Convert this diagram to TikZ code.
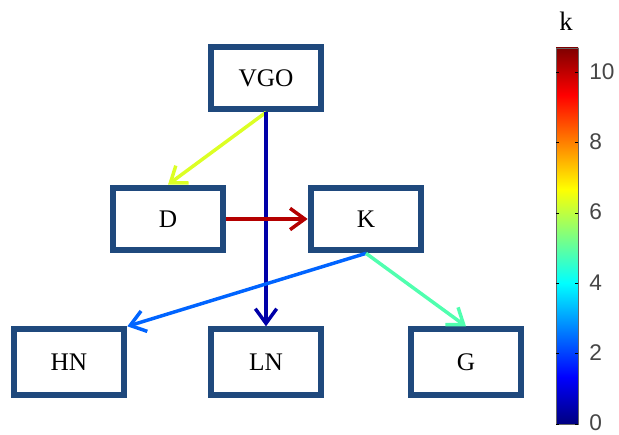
\documentclass[tikz,border=0pt]{standalone}
\usepackage{fontspec}
\setmainfont{Liberation Serif}
\newfontfamily\barfont{Liberation Sans}
\usetikzlibrary{arrows.meta}

\definecolor{boxblue}{RGB}{31,73,125}
\definecolor{tickgray}{RGB}{70,70,70}
\definecolor{jetA}{rgb}{0,0,0.5}
\definecolor{jetB}{rgb}{0,0,1}
\definecolor{jetC}{rgb}{0,1,1}
\definecolor{jetD}{rgb}{1,1,0}
\definecolor{jetE}{rgb}{1,0,0}
\definecolor{jetF}{rgb}{0.5,0,0}
\definecolor{kVD}{RGB}{220,255,36}
\definecolor{kVL}{RGB}{0,0,168}
\definecolor{kDK}{RGB}{180,0,0}
\definecolor{kKH}{RGB}{0,100,255}
\definecolor{kKG}{RGB}{80,255,175}
\pgfdeclareverticalshading{jet}{100bp}{color(0bp)=(jetA); color(25bp)=(jetA); color(31.25bp)=(jetB); color(43.75bp)=(jetC); color(56.25bp)=(jetD); color(68.75bp)=(jetE); color(75bp)=(jetF); color(100bp)=(jetF)}

\tikzset{
	box/.style={draw=boxblue, line width=4.5pt, minimum width=83pt, minimum height=47pt, font=\fontsize{19}{22}\selectfont},
	flow/.style={line width=2.6pt, -{Straight Barb[length=11pt, width=16pt]}},
}

\begin{document}
\begin{tikzpicture}[x=0.75pt, y=-0.75pt]
	\useasboundingbox (0,0) rectangle (619,435);
	%\draw[help lines] (0,0) grid[step=50] (619,435);
	\node[box] (VGO) at (266,78) {VGO};
	\node[box] (D) at (168,219) {D};
	\node[box] (K) at (366,219) {K};
	\node[box, minimum height=49pt] (HN) at (69,362) {HN};
	\node[box, minimum height=49pt] (LN) at (266,362) {LN};
	\node[box, minimum height=49pt] (G) at (466,362) {G};
	\draw[flow, kVD] (VGO.south) -- (D.north);
	\draw[flow, kVL] (VGO.south) -- (LN.north);
	\draw[flow, kDK] (D.east) -- (K.west);
	\draw[flow, kKH] (K.south) -- (HN.north east);
	\draw[flow, kKG] (K.south) -- (G.north);
	% colour bar
	\shade[shading=jet, draw=black!60, line width=0.6pt] (556,48) rectangle (578,424);
	\foreach \v in {0,2,...,10}{
		\draw[line width=0.6pt] (556,424-35.15*\v) -- +(3,0) (578,424-35.15*\v) -- +(-3,0);
		\node[anchor=west, inner sep=0pt, text=tickgray, font=\barfont\fontsize{17}{20}\selectfont] (tick\v) at (589,423-35.15*\v) {\v};
	}
	\node[font=\fontsize{20}{22}\selectfont] (klabel) at (566,21) {k};
\end{tikzpicture}
\end{document}
